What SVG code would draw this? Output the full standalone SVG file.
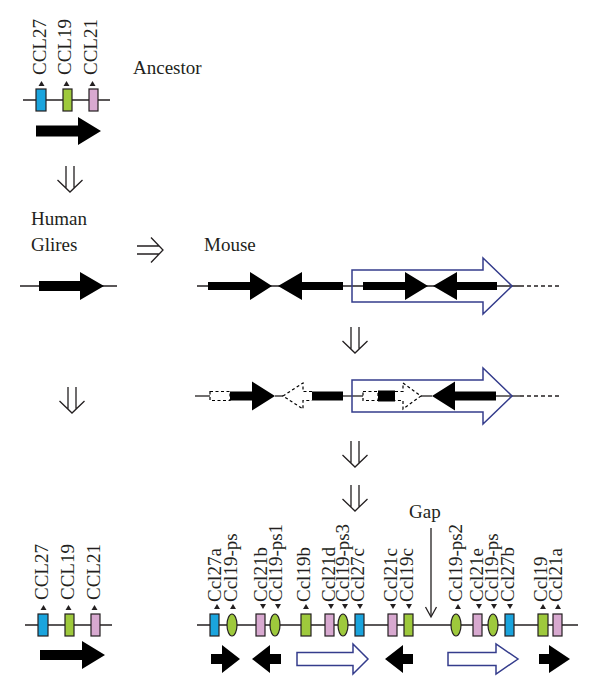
<svg xmlns="http://www.w3.org/2000/svg" xmlns:xlink="http://www.w3.org/1999/xlink" width="600" height="695" viewBox="0 0 600 695">
<style>
.t{font-family:'Liberation Serif','Times New Roman',Times,serif;font-size:19px;fill:#231f20}
.ln{stroke:#231f20;stroke-width:1.3;fill:none}
.dl{stroke:#231f20;stroke-width:1.3;fill:none;stroke-dasharray:4 3}
.bl{fill:#1aa4dd;stroke:#231f20;stroke-width:1.2}
.gr{fill:#9ec93c;stroke:#231f20;stroke-width:1.2}
.pk{fill:#d8a9d0;stroke:#231f20;stroke-width:1.2}
.open{fill:none;stroke:#343c8c;stroke-width:1.5}
.blk{fill:#000}
.dsh{fill:#fff;stroke:#000;stroke-width:1.2;stroke-dasharray:3 2.5}
.mk{fill:#231f20}
.dbl{fill:none;stroke:#231f20;stroke-width:1.3}
</style>
<defs>
<path id="dbl" class="dbl" d="M-4,0V22M4,0V22M-12.5,14L0,26L12.5,14"/>
</defs>
<rect width="600" height="695" fill="#fff"/>

<!-- Ancestor -->
<g id="ancestor" font-family="Liberation Serif, serif">
<line class="ln" x1="23" y1="100" x2="110" y2="100"/>
<g id="anc-ccl27"><rect class="bl" x="36" y="89" width="10" height="22"/><polygon class="mk" points="38.5,86 44.5,86 41.5,81"/><text class="t" transform="translate(46,75) rotate(-90)">CCL27</text></g>
<g id="anc-ccl19"><rect class="gr" x="63" y="89" width="9" height="22"/><polygon class="mk" points="63.5,86 69.5,86 66.5,81"/><text class="t" transform="translate(71,75) rotate(-90)">CCL19</text></g>
<g id="anc-ccl21"><rect class="pk" x="89" y="89" width="9" height="22"/><polygon class="mk" points="89.5,86 95.5,86 92.5,81"/><text class="t" transform="translate(97,75) rotate(-90)">CCL21</text></g>
<polygon class="blk" points="36,125.5 78,125.5 78,117 101,131 78,145 78,136.5 36,136.5"/>
<text class="t" x="133" y="74">Ancestor</text>
</g>

<!-- Labels -->
<g id="labels">
<text class="t" x="31" y="225">Human</text>
<text class="t" x="31" y="251">Glires</text>
<text class="t" x="204" y="251">Mouse</text>
</g>

<!-- Glires -->
<g id="glires">
<line class="ln" x1="20" y1="286" x2="117" y2="286"/>
<polygon class="blk" points="39,281 80,281 80,272 104,286 80,300 80,291 39,291"/>
</g>

<!-- Mouse row 2 -->
<g id="mouse1">
<line class="ln" x1="197" y1="286" x2="520" y2="286"/>
<line class="dl" x1="520" y1="286" x2="562" y2="286"/>
<polygon class="open" points="352,270 483,270 483,258 512,286 483,314 483,302 352,302"/>
<polygon class="blk" points="208,282 250,282 250,272 272,286 250,300 250,290 208,290"/>
<polygon class="blk" points="343,282 302,282 302,272 278,286 302,300 302,290 343,290"/>
<polygon class="blk" points="363,282 405,282 405,272 428,286 405,300 405,290 363,290"/>
<polygon class="blk" points="497,282 457,282 457,272 433,286 457,300 457,290 497,290"/>
</g>

<!-- Mouse row 3 -->
<g id="mouse2">
<line class="ln" x1="195" y1="396" x2="210" y2="396"/>
<line class="ln" x1="275" y1="396" x2="283" y2="396"/>
<line class="ln" x1="343" y1="396" x2="363" y2="396"/>
<line class="ln" x1="421" y1="396" x2="432" y2="396"/>
<line class="ln" x1="496" y1="396" x2="520" y2="396"/>
<line class="dl" x1="520" y1="396" x2="562" y2="396"/>
<polygon class="open" points="352,380 483,380 483,368 512,396 483,424 483,412 352,412"/>
<rect class="dsh" x="210" y="391.5" width="20" height="9"/>
<polygon class="blk" points="230,391.5 252,391.5 252,381.5 275,396 252,410.5 252,400.5 230,400.5"/>
<path class="dsh" d="M312,391.5H303V383L283,396L303,409V400.5H312"/>
<rect class="blk" x="312" y="391.5" width="31" height="9"/>
<rect class="dsh" x="363" y="391.5" width="15" height="9"/>
<rect class="blk" x="378" y="390.5" width="17" height="11"/>
<path class="dsh" d="M395,391.5H403V383L421,396L403,409V400.5H395"/>
<polygon class="blk" points="496,391.5 455,391.5 455,381.5 432,396 455,410.5 455,400.5 496,400.5"/>
</g>

<!-- Human bottom-left -->
<g id="human">
<line class="ln" x1="25" y1="625" x2="112" y2="625"/>
<g id="hum-ccl27"><rect class="bl" x="38" y="614" width="10" height="22"/><polygon class="mk" points="40.5,610 46.5,610 43.5,605"/><text class="t" transform="translate(48,600) rotate(-90)">CCL27</text></g>
<g id="hum-ccl19"><rect class="gr" x="65" y="614" width="9" height="22"/><polygon class="mk" points="65.5,610 71.5,610 68.5,605"/><text class="t" transform="translate(74,600) rotate(-90)">CCL19</text></g>
<g id="hum-ccl21"><rect class="pk" x="91" y="614" width="9" height="22"/><polygon class="mk" points="91.5,610 97.5,610 94.5,605"/><text class="t" transform="translate(100,600) rotate(-90)">CCL21</text></g>
<polygon class="blk" points="40,650 82,650 82,641 105,655 82,669 82,660 40,660"/>
</g>

<!-- Mouse bottom -->
<g id="mouse-genes">
<line class="ln" x1="197" y1="625" x2="578" y2="625"/>
<g id="ccl27a"><rect class="bl" x="210" y="614" width="9" height="22"/><polygon class="mk" points="214,609 220,609 217,604"/><text class="t" transform="translate(221,602) rotate(-90)">Ccl27a</text></g>
<g id="ccl19-ps-a"><ellipse class="gr" cx="232" cy="625" rx="5" ry="11"/><polygon class="mk" points="230,609 236,609 233,604"/><text class="t" transform="translate(237,602) rotate(-90)">Ccl19-ps</text></g>
<g id="ccl21b"><rect class="pk" x="256" y="614" width="9" height="22"/><polygon class="mk" points="260,604 266,604 263,609"/><text class="t" transform="translate(267,602) rotate(-90)">Ccl21b</text></g>
<g id="ccl19-ps1"><ellipse class="gr" cx="275" cy="625" rx="5" ry="11"/><polygon class="mk" points="275,604 281,604 278,609"/><text class="t" transform="translate(282,602) rotate(-90)">Ccl19-ps1</text></g>
<g id="ccl19b"><rect class="gr" x="301" y="614" width="10" height="22"/><polygon class="mk" points="303,609 309,609 306,604"/><text class="t" transform="translate(310,602) rotate(-90)">Ccl19b</text></g>
<g id="ccl21d"><rect class="pk" x="325" y="614" width="9" height="22"/><polygon class="mk" points="328,604 334,604 331,609"/><text class="t" transform="translate(335,602) rotate(-90)">Ccl21d</text></g>
<g id="ccl19-ps3"><ellipse class="gr" cx="343" cy="625" rx="5" ry="11"/><polygon class="mk" points="342,604 348,604 345,609"/><text class="t" transform="translate(349,602) rotate(-90)">Ccl19-ps3</text></g>
<g id="ccl27c"><rect class="bl" x="355" y="614" width="9" height="22"/><polygon class="mk" points="357,604 363,604 360,609"/><text class="t" transform="translate(364,602) rotate(-90)">Ccl27c</text></g>
<g id="ccl21c"><rect class="pk" x="388" y="614" width="9" height="22"/><polygon class="mk" points="390,604 396,604 393,609"/><text class="t" transform="translate(397,602) rotate(-90)">Ccl21c</text></g>
<g id="ccl19c"><rect class="gr" x="404" y="614" width="9" height="22"/><polygon class="mk" points="406,604 412,604 409,609"/><text class="t" transform="translate(413,602) rotate(-90)">Ccl19c</text></g>
<g id="ccl19-ps2"><ellipse class="gr" cx="456" cy="625" rx="5" ry="11"/><polygon class="mk" points="455,609 461,609 458,604"/><text class="t" transform="translate(462,602) rotate(-90)">Ccl19-ps2</text></g>
<g id="ccl21e"><rect class="pk" x="473" y="614" width="9" height="22"/><polygon class="mk" points="476,604 482,604 479,609"/><text class="t" transform="translate(483,602) rotate(-90)">Ccl21e</text></g>
<g id="ccl19-ps-b"><ellipse class="gr" cx="493" cy="625" rx="5" ry="11"/><polygon class="mk" points="491,604 497,604 494,609"/><text class="t" transform="translate(498,602) rotate(-90)">Ccl19-ps</text></g>
<g id="ccl27b"><rect class="bl" x="505" y="614" width="9" height="22"/><polygon class="mk" points="507,604 513,604 510,609"/><text class="t" transform="translate(514,602) rotate(-90)">Ccl27b</text></g>
<g id="ccl19"><rect class="gr" x="538" y="614" width="10" height="22"/><polygon class="mk" points="540,609 546,609 543,604"/><text class="t" transform="translate(547,602) rotate(-90)">Ccl19</text></g>
<g id="ccl21a"><rect class="pk" x="553" y="614" width="9" height="22"/><polygon class="mk" points="555,609 561,609 558,604"/><text class="t" transform="translate(562,602) rotate(-90)">Ccl21a</text></g>
</g>

<g id="mouse-orient">
<polygon class="blk" points="211,654 222,654 222,645 240,659 222,673 222,664 211,664"/>
<polygon class="blk" points="281,654 270,654 270,645 252,659 270,673 270,664 281,664"/>
<polygon class="open" points="297,652.5 353,652.5 353,644 368,659 353,674 353,665.5 297,665.5"/>
<polygon class="blk" points="413,654 403,654 403,645 385,659 403,673 403,664 413,664"/>
<polygon class="open" points="448,652.5 496,652.5 496,644 518,659 496,674 496,665.5 448,665.5"/>
<polygon class="blk" points="539,654 549,654 549,645 570,659 549,673 549,664 539,664"/>
</g>

<!-- Connectors -->
<g id="connectors">
<use xlink:href="#dbl" href="#dbl" x="70" y="166"/>
<use xlink:href="#dbl" href="#dbl" transform="translate(137,250) rotate(-90)"/>
<use xlink:href="#dbl" href="#dbl" x="355" y="327"/>
<use xlink:href="#dbl" href="#dbl" x="72" y="387"/>
<use xlink:href="#dbl" href="#dbl" x="355" y="441"/>
<use xlink:href="#dbl" href="#dbl" x="355" y="485"/>
<g id="gap">
<text class="t" x="409" y="518">Gap</text>
<line class="ln" x1="431" y1="528" x2="431" y2="616"/>
<polyline class="ln" points="425.5,607 431,617 436.5,607"/>
</g>
</g>
</svg>
